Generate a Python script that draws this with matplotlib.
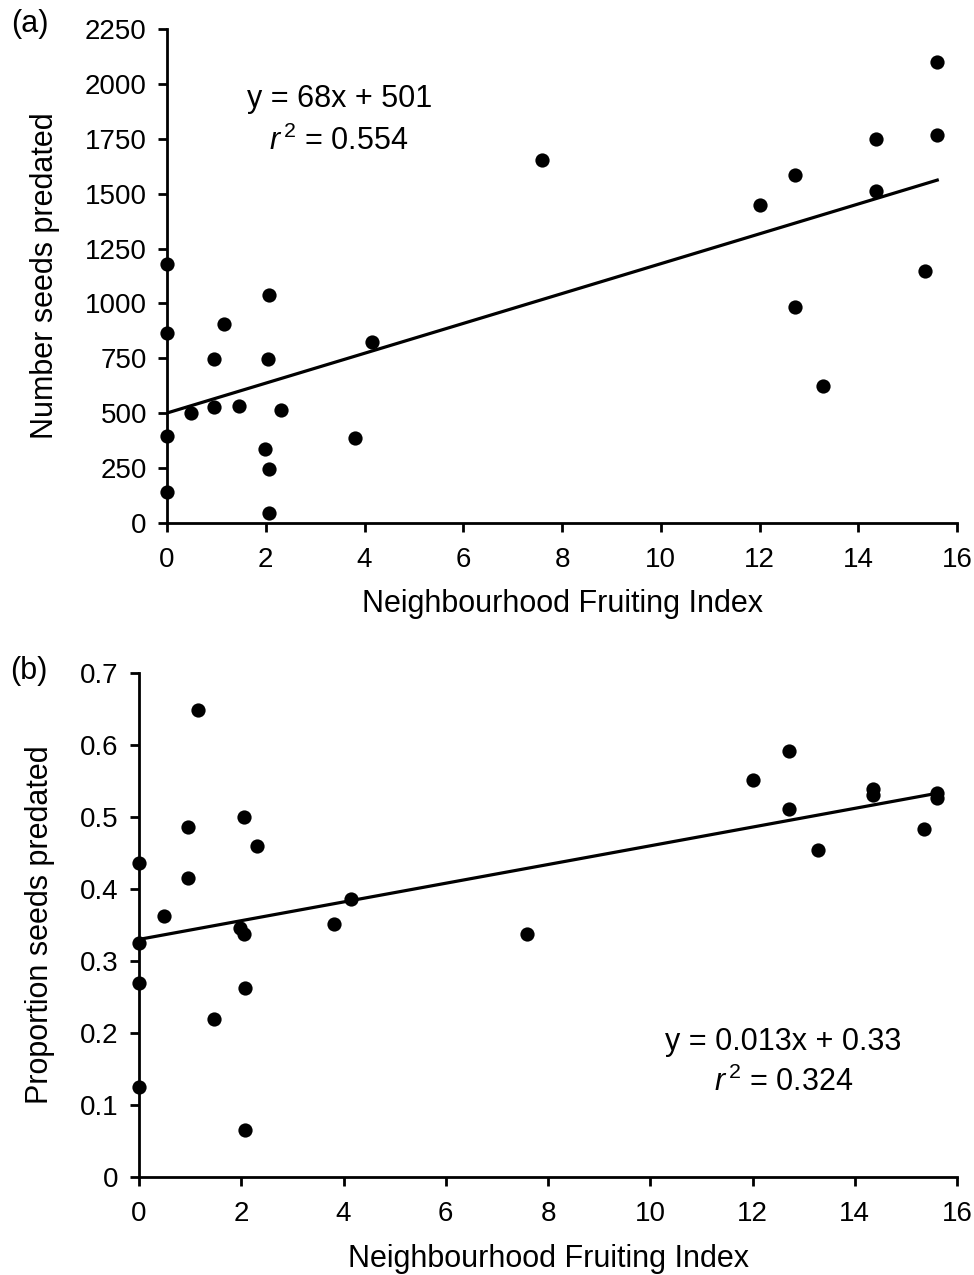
import matplotlib
matplotlib.use("Agg")
import matplotlib.pyplot as plt
import numpy as np

plt.rcParams['font.family'] = ['Liberation Sans', 'DejaVu Sans']
plt.rcParams['mathtext.fontset'] = 'custom'
plt.rcParams['mathtext.it'] = 'Liberation Sans:italic'
plt.rcParams['mathtext.rm'] = 'Liberation Sans'

# Neighbourhood Fruiting Index (shared by both panels)
fruiting_index = [0.0, 0.0, 0.0, 0.0, 0.49, 0.95, 0.95, 1.15, 1.46, 1.98,
                  2.06, 2.05, 2.07, 2.07, 2.31, 3.81, 4.15, 7.59, 12.01,
                  12.72, 12.72, 13.29, 14.36, 14.36, 15.35, 15.6, 15.6]
# Panel (a): number of seeds predated
seeds_predated = [1180, 865, 396, 141, 500, 745, 530, 905, 535, 335,
                  1040, 745, 245, 45, 515, 385, 825, 1655, 1450,
                  1585, 985, 625, 1750, 1510, 1150, 2100, 1765]
# Panel (b): proportion of seeds predated
prop_predated = [0.436, 0.3245, 0.270, 0.125, 0.362, 0.486, 0.415, 0.649, 0.219, 0.346,
                 0.500, 0.3375, 0.263, 0.065, 0.460, 0.352, 0.386, 0.3375, 0.551,
                 0.592, 0.511, 0.4545, 0.539, 0.531, 0.483, 0.533, 0.527]

# Regression equations (slope, intercept) as printed
fit_a = (68, 501)
fit_b = (0.013, 0.33)
eq_a = ["y = 68x + 501", "$r^{\\,2}$ = 0.554"]
eq_b = ["y = 0.013x + 0.33", "$r^{\\,2}$ = 0.324"]

x_ticks = [0, 2, 4, 6, 8, 10, 12, 14, 16]
y_ticks_a = [0, 250, 500, 750, 1000, 1250, 1500, 1750, 2000, 2250]
y_ticks_b = [0, 0.1, 0.2, 0.3, 0.4, 0.5, 0.6, 0.7]

W, H = 974, 1275
fig = plt.figure(figsize=(W / 100, H / 100), dpi=100)

def px_axes(left, right, top, bottom):
    return fig.add_axes([left / W, 1 - bottom / H, (right - left) / W, (bottom - top) / H])

TFS = 20   # tick labels
LFS = 22   # axis labels / annotations
LW = 2.0

def style(ax, yticks, ymax, ylabel, yfmt, ylab_x, xlab_y):
    ax.set_xlim(0, 16)
    ax.set_ylim(0, ymax)
    ax.set_xticks(x_ticks)
    ax.set_yticks(yticks)
    ax.set_yticklabels([yfmt(v) for v in yticks])
    for s in ['top', 'right']:
        ax.spines[s].set_visible(False)
    for s in ['left', 'bottom']:
        ax.spines[s].set_linewidth(LW)
    ax.tick_params(direction='out', length=6.5, width=LW, labelsize=TFS)
    ax.tick_params(axis='x', pad=11)
    ax.tick_params(axis='y', pad=8)
    ax.set_xlabel("Neighbourhood Fruiting Index", fontsize=LFS)
    ax.set_ylabel(ylabel, fontsize=LFS)
    ax.yaxis.set_label_coords(ylab_x, 0.5)
    ax.xaxis.set_label_coords(0.5, xlab_y)
    ax.xaxis.label.set_va('center')
    ax.yaxis.label.set_va('center')
    ax.patch.set_visible(False)

x = np.array(fruiting_index)
xl = np.array([0, max(fruiting_index)])

# Panel (a)
ax1 = px_axes(167, 957, 29, 523)
ax1.scatter(x, seeds_predated, s=105, color='black', zorder=3, clip_on=False, linewidths=0)
ax1.plot(xl, fit_a[0] * xl + fit_a[1], color='black', lw=2.3, zorder=2)
style(ax1, y_ticks_a, 2250, "Number seeds predated", lambda v: f"{v:d}", -0.154, -0.163)
ax1.text(0.218, 0.858, eq_a[0], transform=ax1.transAxes, fontsize=LFS, ha='center', va='center')
ax1.text(0.218, 0.773, eq_a[1], transform=ax1.transAxes, fontsize=LFS, ha='center', va='center')
fig.text(11 / W, 1 - 24 / H, "(a)", fontsize=LFS, ha='left', va='center')

# Panel (b)
ax2 = px_axes(139, 957, 673, 1177)
ax2.scatter(x, prop_predated, s=105, color='black', zorder=3, clip_on=False, linewidths=0)
ax2.plot(xl, fit_b[0] * xl + fit_b[1], color='black', lw=2.3, zorder=2)
style(ax2, y_ticks_b, 0.7, "Proportion seeds predated",
      lambda v: "0" if v == 0 else f"{v:.1f}", -0.121, -0.163)
ax2.text(0.788, 0.268, eq_b[0], transform=ax2.transAxes, fontsize=LFS, ha='center', va='center')
ax2.text(0.788, 0.188, eq_b[1], transform=ax2.transAxes, fontsize=LFS, ha='center', va='center')
fig.text(10 / W, 1 - 671 / H, "(b)", fontsize=LFS, ha='left', va='center')

fig.savefig("out.png", dpi=100)
